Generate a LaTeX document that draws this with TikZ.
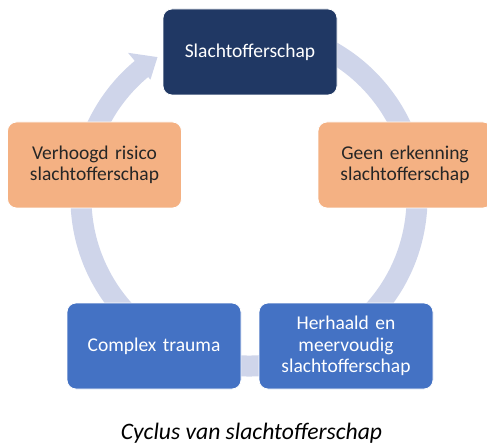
\documentclass[tikz,border=0pt]{standalone}
\usepackage{fontspec}
\setmainfont{Carlito}
\definecolor{ringc}{HTML}{CFD5EA}
\definecolor{navy}{HTML}{203864}
\definecolor{orng}{HTML}{F4B183}
\definecolor{blu}{HTML}{4472C4}
\definecolor{dtext}{HTML}{262626}
\begin{document}
\begin{tikzpicture}[x=1pt,y=1pt,
  box/.style={rounded corners=9pt, minimum width=174pt, minimum height=86pt,
    draw=white, line width=0.8pt, align=center, inner sep=0pt, text width=170pt,
    font=\fontsize{19.5}{21.5}\selectfont},
  darkbox/.style={box, fill=navy, text=white},
  orangebox/.style={box, fill=orng, text=dtext},
  bluebox/.style={box, fill=blu, text=white},
  ring/.style={draw=ringc, line width=21pt}]
\useasboundingbox (0,0) rectangle (487,445);
\coordinate (c) at (249,247);
% ring (circular arrow) behind the boxes
\draw[ring] ([shift={(80:168)}]c) arc[start angle=80, end angle=-230.6, radius=168];
\fill[ringc] ([shift={(129.8:154)}]c) -- ([shift={(129.8:189)}]c) -- ([shift={(123:168)}]c) -- cycle;
% boxes
\node[darkbox] (top) at (250,393) {Slachtofferschap};
\node[orangebox] (left) at (94.5,280) {Verhoogd risico\\slachtofferschap};
\node[orangebox] (right) at (405,280) {Geen erkenning\\slachtofferschap};
\node[bluebox] (bl) at (154,99) {Complex trauma};
\node[bluebox] (br) at (346,99) {Herhaald en\\meervoudig\\slachtofferschap};
% caption
\node[anchor=base, inner sep=0pt, font=\itshape\fontsize{23.6}{28}\selectfont, text=black] (cap) at (251.5,6) {Cyclus van slachtofferschap};
\end{tikzpicture}
\end{document}
